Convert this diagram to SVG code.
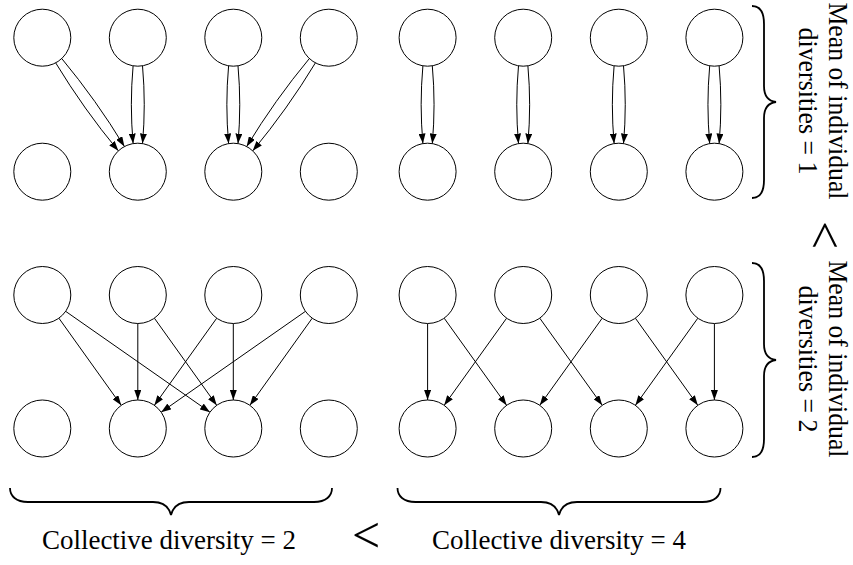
<svg xmlns="http://www.w3.org/2000/svg" width="853" height="565" viewBox="0 0 853 565">
<style>
.n{fill:#fff;stroke:#000;stroke-width:1}
.e{fill:none;stroke:#000;stroke-width:1;marker-end:url(#ah)}
.b{fill:none;stroke:#000;stroke-width:1.8}
.t{font-family:"Liberation Serif","Times New Roman",serif;font-size:27px;fill:#000;text-anchor:middle}
.lt{font-family:"Liberation Serif","Times New Roman",serif;font-size:50px;fill:#000;text-anchor:middle}
</style>
<defs>
<marker id="ah" markerUnits="userSpaceOnUse" markerWidth="10" markerHeight="7" refX="10" refY="3.5" orient="auto"><path d="M0,0 L10,3.5 L0,7 z" fill="#000"/></marker>
</defs>
<rect width="853" height="565" fill="#fff"/>
<g id="connectors">
<path class="e" d="M55.68,62.86 Q83.76,109.18 118.36,150.86"/>
<path class="e" d="M61.74,58.54 Q96.34,100.22 124.42,146.54"/>
<path class="e" d="M133.1,65.8 Q129.6,104.7 133.1,143.6"/>
<path class="e" d="M142.5,65.8 Q146,104.7 142.5,143.6"/>
<path class="e" d="M228.6,65.8 Q225.1,104.7 228.6,143.6"/>
<path class="e" d="M238,65.8 Q241.5,104.7 238,143.6"/>
<path class="e" d="M315.42,62.86 Q287.34,109.18 252.74,150.86"/>
<path class="e" d="M309.36,58.54 Q274.76,100.22 246.68,146.54"/>
<path class="e" d="M422.9,65.8 Q419.4,104.7 422.9,143.6"/>
<path class="e" d="M432.3,65.8 Q435.8,104.7 432.3,143.6"/>
<path class="e" d="M518.5,65.8 Q515,104.7 518.5,143.6"/>
<path class="e" d="M527.9,65.8 Q531.4,104.7 527.9,143.6"/>
<path class="e" d="M614.1,65.8 Q610.6,104.7 614.1,143.6"/>
<path class="e" d="M623.5,65.8 Q627,104.7 623.5,143.6"/>
<path class="e" d="M709.7,65.8 Q706.2,104.7 709.7,143.6"/>
<path class="e" d="M719.1,65.8 Q722.6,104.7 719.1,143.6"/>
<path class="e" d="M58.88,318.18 L121.22,405.32"/>
<path class="e" d="M65.66,311.33 L209.94,412.17"/>
<path class="e" d="M137.8,323.5 L137.8,400"/>
<path class="e" d="M154.38,318.18 L216.72,405.32"/>
<path class="e" d="M216.72,318.18 L154.38,405.32"/>
<path class="e" d="M233.3,323.5 L233.3,400"/>
<path class="e" d="M305.44,311.33 L161.16,412.17"/>
<path class="e" d="M312.22,318.18 L249.88,405.32"/>
<path class="e" d="M427.6,323.5 L427.6,400"/>
<path class="e" d="M444.18,318.18 L506.62,405.32"/>
<path class="e" d="M506.62,318.18 L444.18,405.32"/>
<path class="e" d="M539.78,318.18 L602.22,405.32"/>
<path class="e" d="M602.22,318.18 L539.78,405.32"/>
<path class="e" d="M635.38,318.18 L697.82,405.32"/>
<path class="e" d="M697.82,318.18 L635.38,405.32"/>
<path class="e" d="M714.4,323.5 L714.4,400"/>
</g>
<g id="nodes">
<g id="a1"><circle class="n" cx="42.3" cy="37.7" r="28.5"/></g>
<g id="a2"><circle class="n" cx="137.8" cy="37.7" r="28.5"/></g>
<g id="a3"><circle class="n" cx="233.3" cy="37.7" r="28.5"/></g>
<g id="a4"><circle class="n" cx="328.8" cy="37.7" r="28.5"/></g>
<g id="a5"><circle class="n" cx="42.3" cy="171.7" r="28.5"/></g>
<g id="a6"><circle class="n" cx="137.8" cy="171.7" r="28.5"/></g>
<g id="a7"><circle class="n" cx="233.3" cy="171.7" r="28.5"/></g>
<g id="a8"><circle class="n" cx="328.8" cy="171.7" r="28.5"/></g>
<g id="b1"><circle class="n" cx="427.6" cy="37.7" r="28.5"/></g>
<g id="b2"><circle class="n" cx="523.2" cy="37.7" r="28.5"/></g>
<g id="b3"><circle class="n" cx="618.8" cy="37.7" r="28.5"/></g>
<g id="b4"><circle class="n" cx="714.4" cy="37.7" r="28.5"/></g>
<g id="b5"><circle class="n" cx="427.6" cy="171.7" r="28.5"/></g>
<g id="b6"><circle class="n" cx="523.2" cy="171.7" r="28.5"/></g>
<g id="b7"><circle class="n" cx="618.8" cy="171.7" r="28.5"/></g>
<g id="b8"><circle class="n" cx="714.4" cy="171.7" r="28.5"/></g>
<g id="c1"><circle class="n" cx="42.3" cy="295" r="28.5"/></g>
<g id="c2"><circle class="n" cx="137.8" cy="295" r="28.5"/></g>
<g id="c3"><circle class="n" cx="233.3" cy="295" r="28.5"/></g>
<g id="c4"><circle class="n" cx="328.8" cy="295" r="28.5"/></g>
<g id="c5"><circle class="n" cx="42.3" cy="428.5" r="28.5"/></g>
<g id="c6"><circle class="n" cx="137.8" cy="428.5" r="28.5"/></g>
<g id="c7"><circle class="n" cx="233.3" cy="428.5" r="28.5"/></g>
<g id="c8"><circle class="n" cx="328.8" cy="428.5" r="28.5"/></g>
<g id="d1"><circle class="n" cx="427.6" cy="295" r="28.5"/></g>
<g id="d2"><circle class="n" cx="523.2" cy="295" r="28.5"/></g>
<g id="d3"><circle class="n" cx="618.8" cy="295" r="28.5"/></g>
<g id="d4"><circle class="n" cx="714.4" cy="295" r="28.5"/></g>
<g id="d5"><circle class="n" cx="427.6" cy="428.5" r="28.5"/></g>
<g id="d6"><circle class="n" cx="523.2" cy="428.5" r="28.5"/></g>
<g id="d7"><circle class="n" cx="618.8" cy="428.5" r="28.5"/></g>
<g id="d8"><circle class="n" cx="714.4" cy="428.5" r="28.5"/></g>
</g>
<g id="annotations">
<path class="b" d="M752,6 C760,6 764,12 764,24 L764,86 C764,96 768,101 776,102 C768,103 764,108 764,118 L764,180 C764,192 760,198 752,198"/>
<path class="b" d="M752,263 C760,263 764,269 764,281 L764,344 C764,354 768,359 776,360 C768,361 764,366 764,376 L764,439 C764,451 760,457 752,457"/>
<path class="b" d="M10,488 C10,496 16,502 28,502 L153,502 C163,502 169,507 171,515 C173,507 179,502 189,502 L314,502 C326,502 332,496 332,488"/>
<path class="b" d="M397.5,488 C397.5,496 403.5,502 415.5,502 L541,502 C551,502 557,507 559,515 C561,507 567,502 577,502 L702.5,502 C714.5,502 720.5,496 720.5,488"/>
<text class="t" transform="translate(828.5,101) rotate(90)" textLength="197" lengthAdjust="spacingAndGlyphs">Mean of individual</text>
<text class="t" transform="translate(799,101) rotate(90)" textLength="147" lengthAdjust="spacingAndGlyphs">diversities = 1</text>
<text class="t" transform="translate(828.5,359) rotate(90)" textLength="197" lengthAdjust="spacingAndGlyphs">Mean of individual</text>
<text class="t" transform="translate(799,359) rotate(90)" textLength="147" lengthAdjust="spacingAndGlyphs">diversities = 2</text>
<text class="lt" transform="translate(808,235) rotate(90)">&lt;</text>
<text class="t" x="169" y="549" textLength="254" lengthAdjust="spacingAndGlyphs">Collective diversity = 2</text>
<text class="lt" x="366" y="552">&lt;</text>
<text class="t" x="559" y="549" textLength="254" lengthAdjust="spacingAndGlyphs">Collective diversity = 4</text>
</g>
</svg>
